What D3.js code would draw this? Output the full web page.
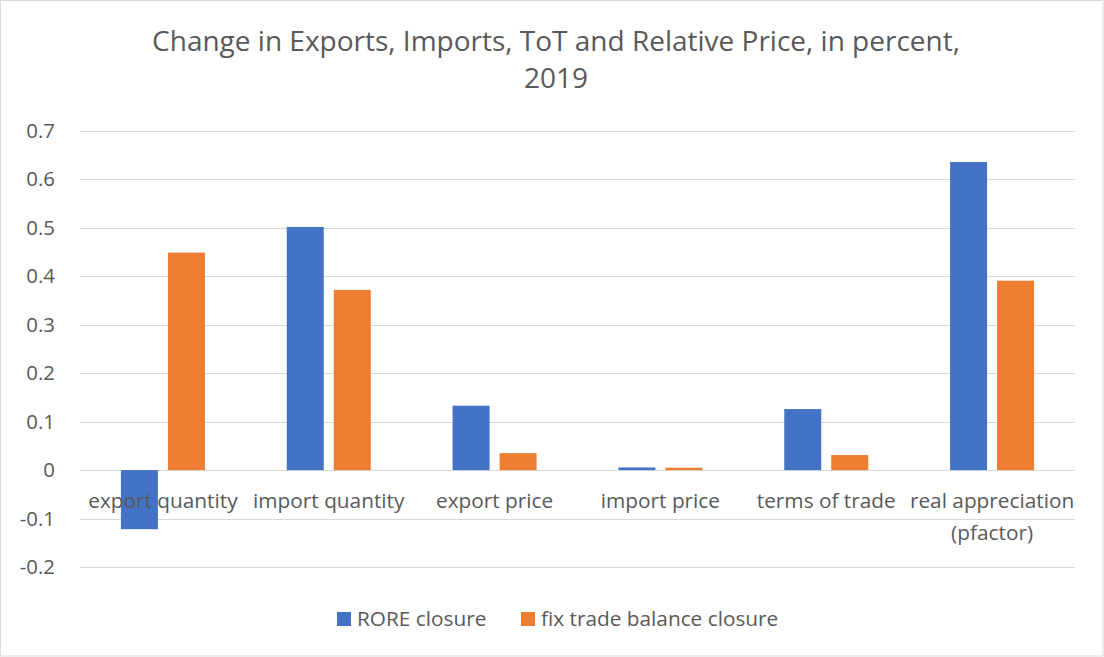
<!DOCTYPE html>
<html><head><meta charset="utf-8">
<script src="https://cdn.jsdelivr.net/npm/d3@7"></script>
<style>body{margin:0;background:#fff;} svg{display:block;}</style>
</head><body>
<script>
const categories = ["export quantity", "import quantity", "export price", "import price", "terms of trade", "real appreciation (pfactor)"];
const seriesNames = ["RORE closure", "fix trade balance closure"];
const roreValues = [-0.122, 0.502, 0.133, 0.0055, 0.126, 0.636];
const fixValues = [0.449, 0.372, 0.035, 0.005, 0.031, 0.391];
const yTicks = [-0.2, -0.1, 0, 0.1, 0.2, 0.3, 0.4, 0.5, 0.6, 0.7];
const colors = ["#4472C4", "#ED7D31"];

const W = 1104, H = 657;
const font = "'Open Sans', Lato, sans-serif";
const svg = d3.select("body").append("svg").attr("width", W).attr("height", H);
svg.append("rect").attr("x", 0.5).attr("y", 0.5).attr("width", W - 1.5).attr("height", H - 1.5)
  .attr("fill", "#fff").attr("stroke", "#d9d9d9");

const x = d3.scaleBand().domain(categories).range([80, 1075]);
const y = d3.scaleLinear().domain([-0.2, 0.7]).range([567, 131]);
const barW = 37, gap = 10;

svg.append("g").selectAll("line").data(yTicks).join("line")
  .attr("x1", 80).attr("x2", 1075)
  .attr("y1", d => Math.round(y(d)) + 0.5).attr("y2", d => Math.round(y(d)) + 0.5)
  .attr("stroke", "#d9d9d9").attr("stroke-width", 1);

const yAxis = d3.axisLeft(y).tickValues(yTicks).tickSize(0).tickPadding(0)
  .tickFormat(d => d === 0 ? "0" : d3.format(".1f")(d).replace("\u2212", "-"));
const ya = svg.append("g").attr("transform", "translate(55,0)").call(yAxis);
ya.select(".domain").remove();
ya.selectAll("text").attr("font-family", font).attr("font-size", 20.4).attr("fill", "#595959");

const data = [roreValues, fixValues];
data.forEach((vals, si) => {
  svg.append("g").selectAll("rect").data(categories).join("rect")
    .attr("x", (c) => x(c) + x.bandwidth() / 2 + (si === 0 ? -gap / 2 - barW : gap / 2))
    .attr("width", barW)
    .attr("y", (c, i) => y(Math.max(0, vals[i])))
    .attr("height", (c, i) => Math.abs(y(vals[i]) - y(0)))
    .attr("fill", colors[si]);
});

const xl = svg.append("g");
categories.forEach(c => {
  const lines = c === "real appreciation (pfactor)" ? ["real appreciation", "(pfactor)"] : [c];
  lines.forEach((t, k) => {
    xl.append("text").attr("x", x(c) + x.bandwidth() / 2).attr("y", 508 + k * 32)
      .attr("text-anchor", "middle").attr("font-family", font).attr("font-size", 20.8)
      .attr("fill", "#595959").text(t);
  });
});

["Change in Exports, Imports, ToT and Relative Price, in percent,", "2019"].forEach((t, k) => {
  svg.append("text").attr("x", 556).attr("y", 51 + k * 37).attr("text-anchor", "middle")
    .attr("font-family", font).attr("font-size", 28).attr("fill", "#595959").text(t);
});

const leg = [[337, 357], [521, 541]];
seriesNames.forEach((s, i) => {
  svg.append("rect").attr("x", leg[i][0]).attr("y", 612).attr("width", 14).attr("height", 14).attr("fill", colors[i]);
  svg.append("text").attr("x", leg[i][1]).attr("y", 626).attr("font-family", font).attr("font-size", 20.8)
    .attr("fill", "#595959").text(s);
});
</script>
</body></html>
